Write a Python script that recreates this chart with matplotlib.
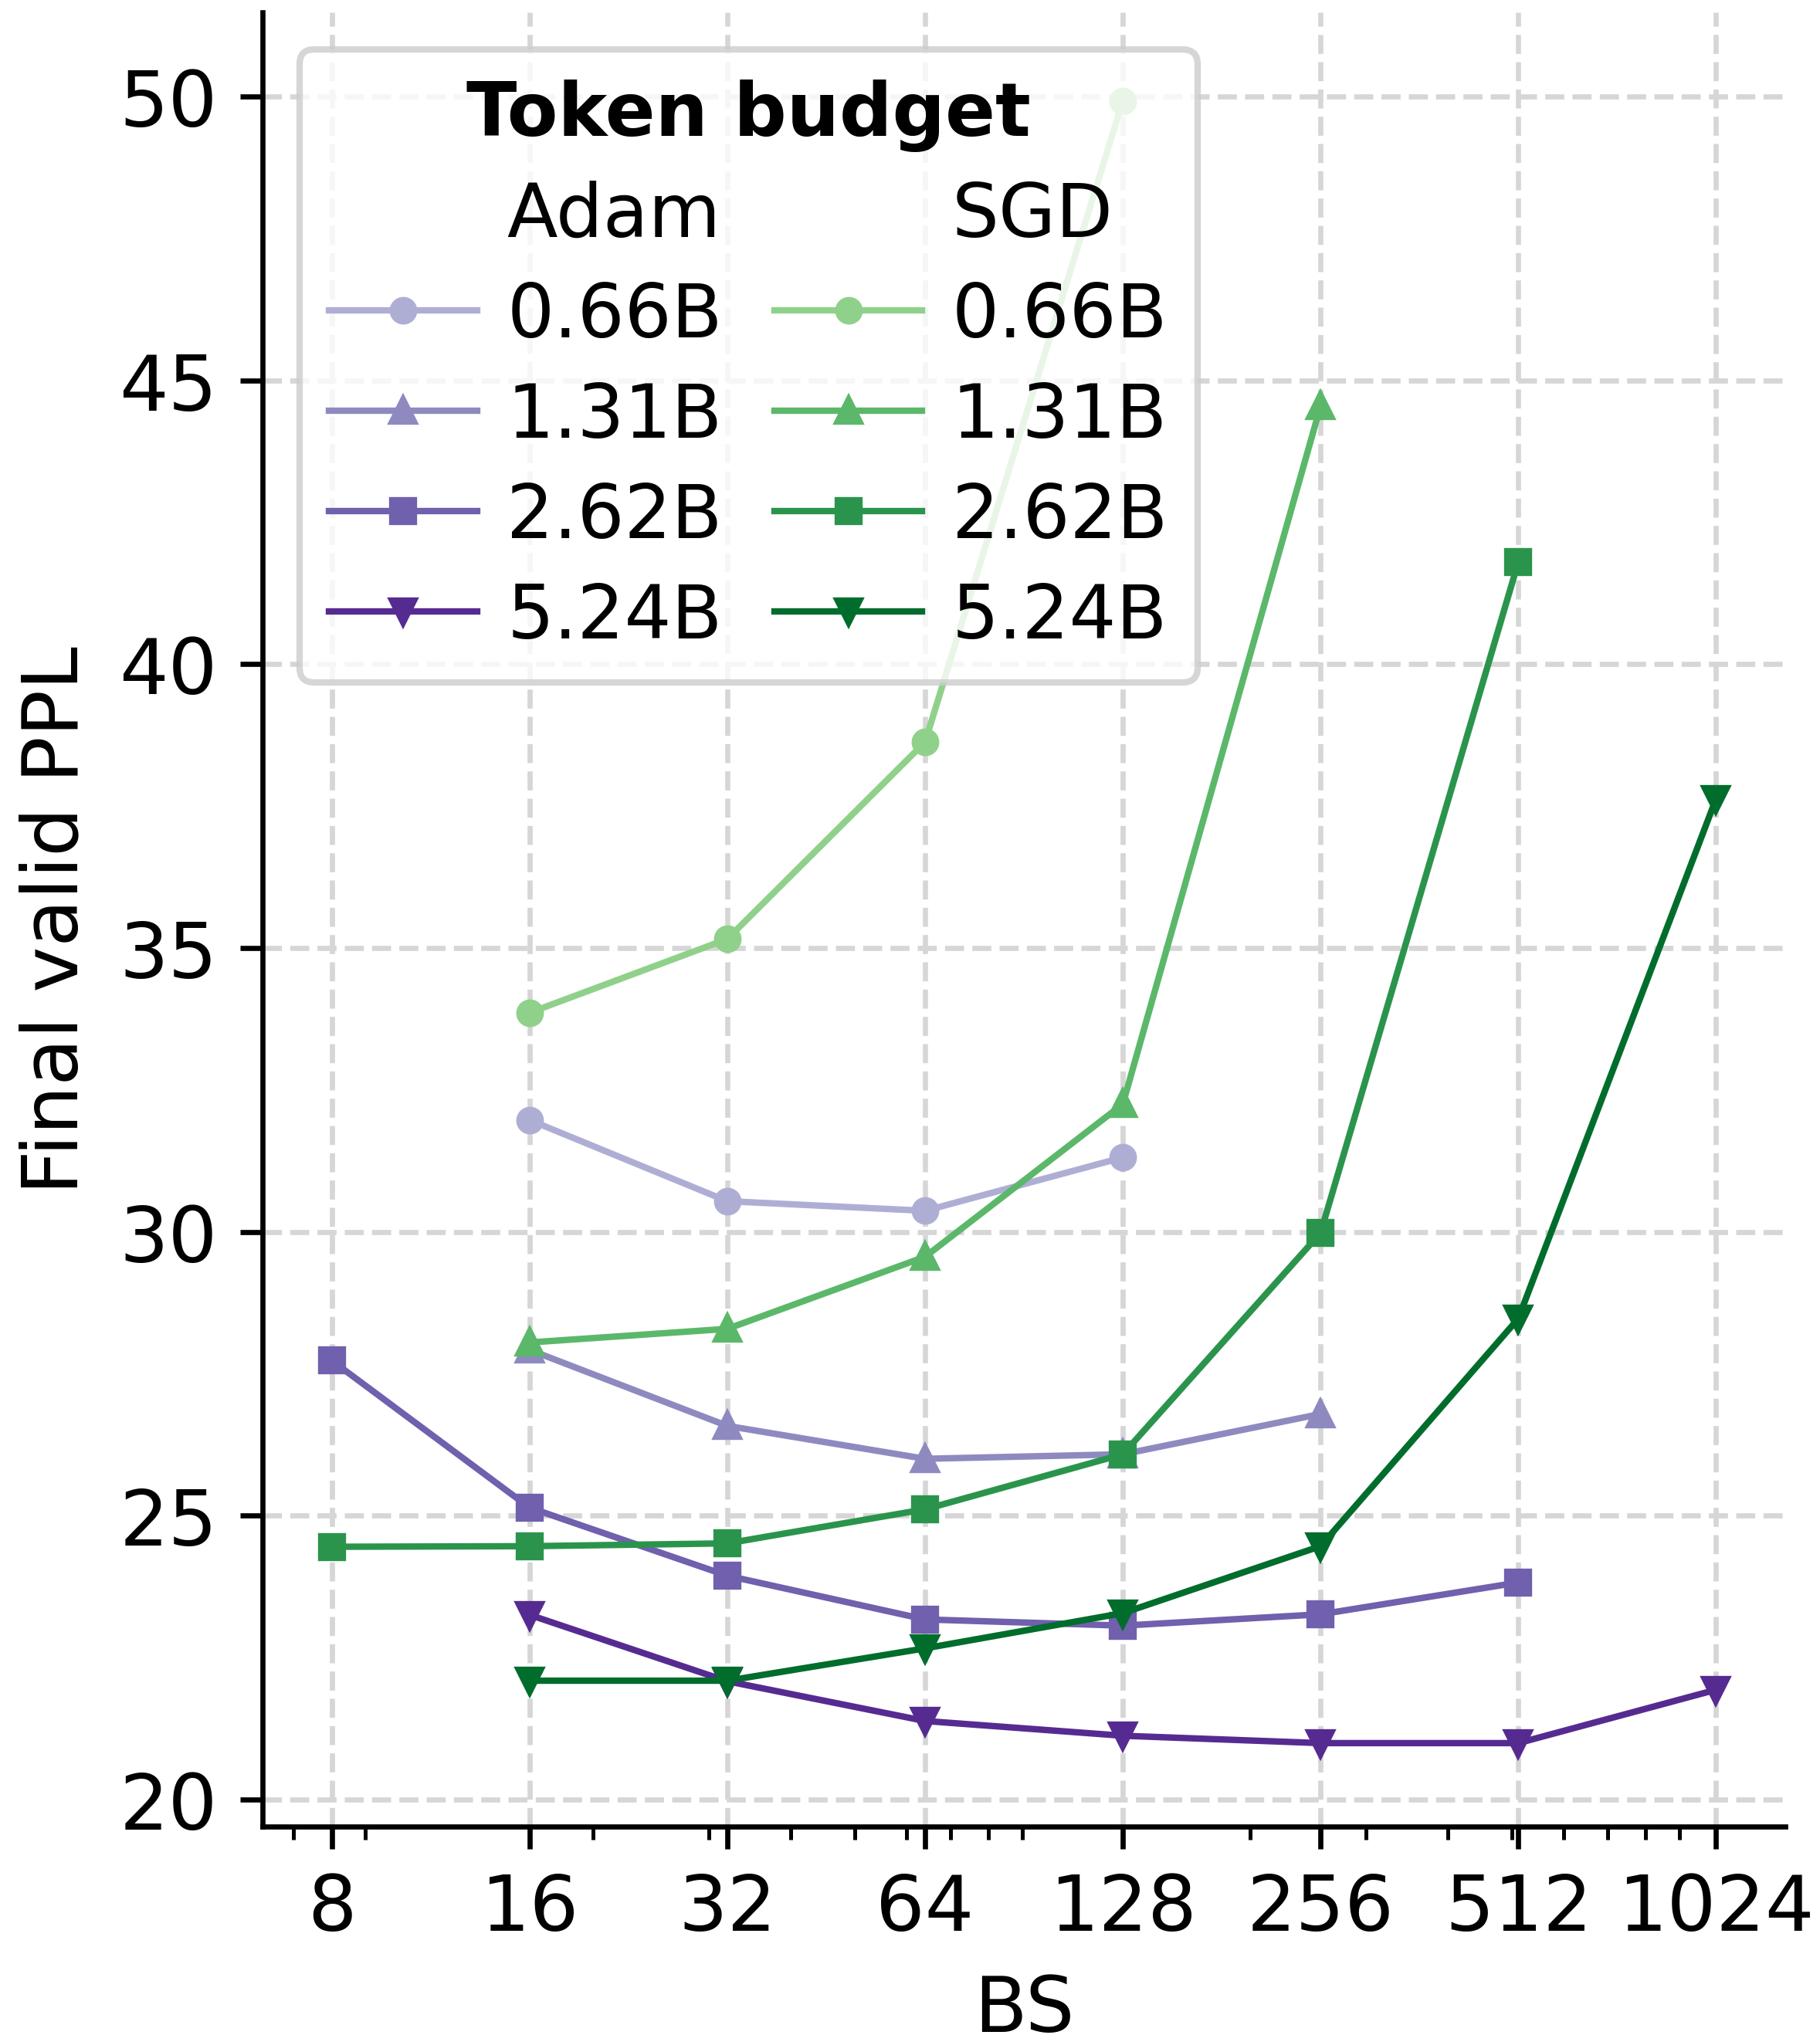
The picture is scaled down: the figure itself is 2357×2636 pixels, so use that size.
import matplotlib
matplotlib.use("Agg")
import matplotlib.pyplot as plt
from matplotlib.lines import Line2D
from matplotlib.ticker import NullFormatter

plt.rcParams['font.size'] = 12

# batch sizes and final validation perplexity per token budget
bs = [8, 16, 32, 64, 128, 256, 512, 1024]
budgets = ['0.66B', '1.31B', '2.62B', '5.24B']
markers = ['o', '^', 's', 'v']

adam_bs = [
    [16, 32, 64, 128],
    [16, 32, 64, 128, 256],
    [8, 16, 32, 64, 128, 256, 512],
    [16, 32, 64, 128, 256, 512, 1024],
]
adam_ppl = [
    [31.97, 30.54, 30.37, 31.31],
    [27.92, 26.58, 26.00, 26.08, 26.79],
    [27.73, 25.14, 23.94, 23.17, 23.06, 23.26, 23.82],
    [23.25, 22.08, 21.38, 21.12, 20.99, 20.99, 21.93],
]
sgd_bs = [
    [16, 32, 64, 128],
    [16, 32, 64, 128, 256],
    [8, 16, 32, 64, 128, 256, 512],
    [16, 32, 64, 128, 256, 512, 1024],
]
sgd_ppl = [
    [33.86, 35.16, 38.63, 49.93],
    [28.05, 28.29, 29.56, 32.25, 44.55],
    [24.45, 24.46, 24.51, 25.11, 26.08, 29.98, 41.80],
    [22.09, 22.09, 22.66, 23.28, 24.46, 28.47, 37.63],
]

adam_colors = ['#aeaed5', '#8e8ac0', '#7060ad', '#562b91']
sgd_colors = ['#8fd18a', '#5bb86a', '#2b944c', '#006d2c']

fig = plt.figure(figsize=(2357 / 600, 2637 / 600), dpi=600)
ax = fig.add_axes([0.1443, 0.1024, 0.8366, 0.8912])

adam_handles, sgd_handles = [], []
for i in range(4):
    h, = ax.plot(adam_bs[i], adam_ppl[i], marker=markers[i], color=adam_colors[i],
                 lw=1.0, ms=3.3, label=budgets[i])
    adam_handles.append(h)
for i in range(4):
    h, = ax.plot(sgd_bs[i], sgd_ppl[i], marker=markers[i], color=sgd_colors[i],
                 lw=1.0, ms=3.3, label=budgets[i])
    sgd_handles.append(h)

ax.set_xscale('log')
ax.set_xticks(bs, [str(b) for b in bs])
ax.xaxis.set_minor_formatter(NullFormatter())
ax.set_yticks([20, 25, 30, 35, 40, 45, 50])
ax.set_ylim(19.52, 51.49)

ax.grid(True, which='major', linestyle='--', color='#d6d6d6', lw=0.8)
ax.spines['top'].set_visible(False)
ax.spines['right'].set_visible(False)

ax.set_xlabel('BS')
ax.set_ylabel('Final valid PPL')

# column headers are entries with invisible handles
blank = Line2D([], [], color='none')
handles = [blank] + adam_handles + [blank] + sgd_handles
labels = ['Adam'] + budgets + ['SGD'] + budgets
ax.legend(handles, labels, ncol=2, loc='upper left', title='Token budget',
          fontsize=11.5, title_fontproperties={'weight': 'bold', 'size': 11.5},
          labelspacing=0.385, handletextpad=0.4, columnspacing=0.7,
          handlelength=2.0)

fig.savefig('out.png', dpi=600)
